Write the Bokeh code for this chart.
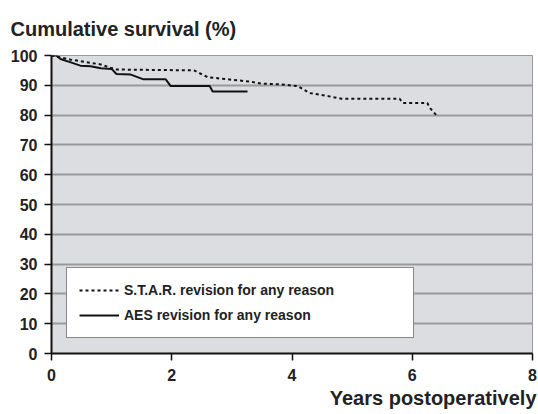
from bokeh.plotting import figure
from bokeh.models import Legend, LegendItem, FixedTicker, Range1d, Title
from bokeh.embed import file_html
from bokeh.resources import INLINE

# S.T.A.R. revision for any reason (years, cumulative survival %)
star_years = [0.0, 0.32, 0.82, 1.07, 2.37, 2.6, 3.32, 3.48, 3.82, 4.1, 4.29, 4.59, 4.82, 5.79, 5.84, 6.25, 6.29, 6.4]
star_surv = [100.0, 98.6, 97.0, 95.3, 95.0, 92.7, 91.2, 90.6, 90.3, 89.7, 87.4, 86.4, 85.5, 85.5, 84.1, 84.1, 82.5, 80.0]

# AES revision for any reason
aes_years = [0.0, 0.08, 0.15, 0.32, 0.48, 0.65, 0.82, 1.0, 1.08, 1.32, 1.53, 1.9, 1.98, 2.63, 2.68, 3.26]
aes_surv = [100.0, 100.0, 98.8, 97.7, 96.6, 96.4, 95.7, 95.5, 93.8, 93.6, 92.0, 92.0, 89.8, 89.8, 87.9, 87.9]

x_ticks = [0, 2, 4, 6, 8]
y_ticks = [0, 10, 20, 30, 40, 50, 60, 70, 80, 90, 100]

FONT = "Liberation Sans"
TXT = "#222222"

p = figure(width=538, height=414, output_backend="svg", toolbar_location=None,
           x_range=Range1d(0, 8), y_range=Range1d(0, 100),
           min_border_left=51, min_border_right=6, min_border_top=53, min_border_bottom=61)

p.border_fill_color = "white"
p.outline_line_color = "#9a9a9a"
p.outline_line_width = 1
p.background_fill_color = "#dcdde0"

p.title = Title(text="Cumulative survival (%)", align="left", offset=-41,
                text_font=FONT, text_font_size="20px", text_font_style="bold",
                text_color=TXT, standoff=31)

p.xgrid.visible = False
p.ygrid.grid_line_color = "#9a9a9a"
p.ygrid.grid_line_width = 2
p.ygrid.ticker = FixedTicker(ticks=y_ticks)

p.xaxis.ticker = FixedTicker(ticks=x_ticks)
p.yaxis.ticker = FixedTicker(ticks=y_ticks)
for ax in (p.xaxis[0], p.yaxis[0]):
    ax.axis_line_color = "#111111"
    ax.axis_line_width = 2
    ax.major_tick_line_color = "#111111"
    ax.major_tick_line_width = 1.5
    ax.major_tick_out = 7
    ax.major_tick_in = 0
    ax.minor_tick_line_color = None
    ax.major_label_text_font = FONT
    ax.major_label_text_font_size = "16px"
    ax.major_label_text_font_style = "bold"
    ax.major_label_text_color = TXT

p.yaxis.major_label_standoff = 7
p.xaxis.major_label_standoff = 8

x_title = Title(text="Years postoperatively", align="right", offset=-4,
                text_font=FONT, text_font_size="20px", text_font_style="bold",
                text_color=TXT, standoff=2)
p.add_layout(x_title, "below")

r_star = p.line(star_years, star_surv, line_color="#111111", line_width=2, line_dash="3 3")
r_aes = p.line(aes_years, aes_surv, line_color="#111111", line_width=2)

legend = Legend(items=[LegendItem(label="S.T.A.R. revision for any reason", renderers=[r_star]),
                       LegendItem(label="AES revision for any reason", renderers=[r_aes])],
                location=(15, 15), orientation="vertical",
                glyph_width=40, glyph_height=20, spacing=5, padding=12, margin=0,
                label_standoff=5, label_width=277, label_height=20,
                label_text_font=FONT, label_text_font_size="14px", label_text_font_style="bold",
                label_text_color=TXT,
                border_line_color="#111111", border_line_width=1,
                background_fill_color="white", background_fill_alpha=1)
p.add_layout(legend, "center")

open("out.html", "w").write(file_html(p, INLINE))
